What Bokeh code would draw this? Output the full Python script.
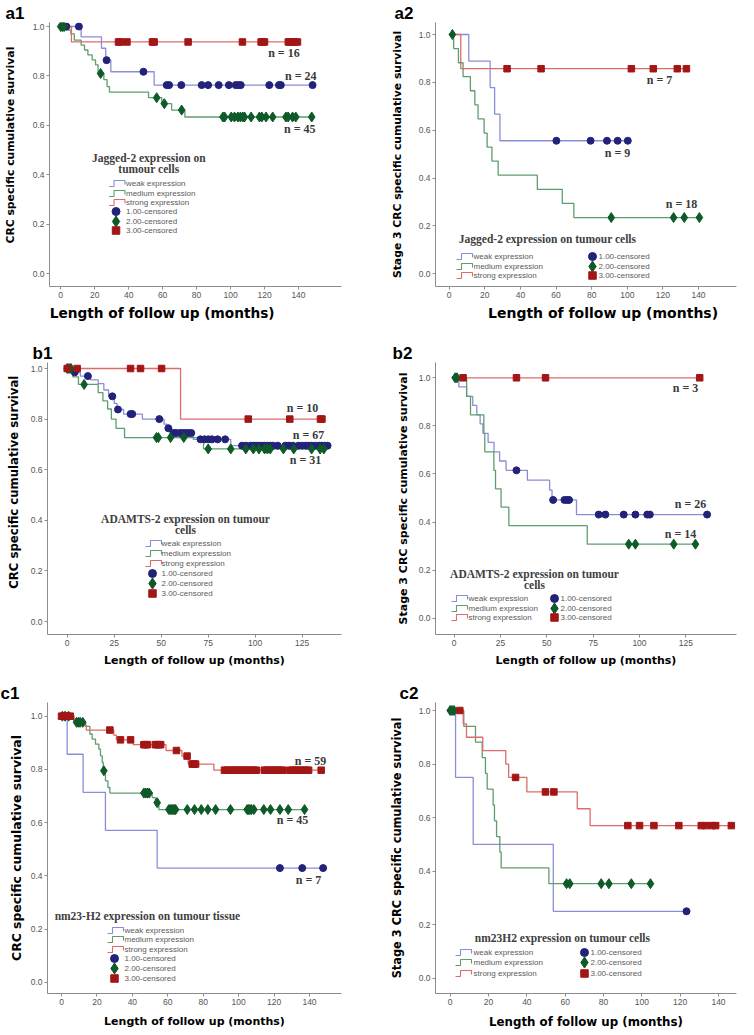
import numpy as np
from bokeh.plotting import figure
from bokeh.layouts import column, row
from bokeh.models import Range1d, FixedTicker, PrintfTickFormatter
from bokeh.core.properties import value
from bokeh.embed import file_html
from bokeh.resources import INLINE

# ---------------------------------------------------------------- data
GROUPS = ["weak expression", "medium expression", "strong expression"]
CENSOR_LABELS = ["1.00-censored", "2.00-censored", "3.00-censored"]
X_LABEL = "Length of follow up (months)"
Y_LABEL_ALL = "CRC specific cumulative survival"
Y_LABEL_ST3 = "Stage 3 CRC specific cumulative survival"
TICKS_140 = [0, 20, 40, 60, 80, 100, 120, 140]
TICKS_125 = [0, 25, 50, 75, 100, 125]
Y_TICKS = [0.0, 0.2, 0.4, 0.6, 0.8, 1.0]

# a1 : Jagged-2, all stages
a1_weak_t = [12, 24, 26.5, 29.5, 55]
a1_weak_s = [0.958, 0.912, 0.864, 0.817, 0.763]
a1_weak_c = [3.3, 10.7, 27, 48.7, 62.4, 63.8, 71, 83, 86.8, 93, 99, 103, 104.5, 106,
             122.8, 128.5, 129.6, 148.3]
a1_med_t = [3, 6, 8, 12, 14, 16, 18.5, 20.5, 22, 25.4, 27.3, 28.7, 51.7, 59.5, 65.3, 73.1]
a1_med_s = [0.985, 0.97, 0.945, 0.925, 0.905, 0.885, 0.865, 0.845, 0.81, 0.785, 0.757,
            0.735, 0.712, 0.688, 0.662, 0.634]
a1_med_c = [0, 1, 2, 23.5, 56.5, 61, 71.2, 95.5, 96.5, 100.4, 102.3, 104.3, 105.8, 107.2,
            108.2, 112.1, 117, 118.4, 120.9, 124.8, 132.6, 133.9, 136.5, 138.4, 147.8]
a1_str_t = [6.3]
a1_str_s = [0.9375]
a1_str_c = [34, 35, 39, 54, 55, 75, 107, 118, 119, 120, 134, 135, 136, 137.5, 139.4]

# a2 : Jagged-2, stage 3
a2_weak_t = [11, 23, 25.5, 28.5]
a2_weak_s = [0.889, 0.778, 0.667, 0.556]
a2_weak_c = [60.2, 79.4, 88.6, 94.6, 100.3]
a2_med_t = [2.5, 5.2, 7.8, 11.9, 14.4, 16.2, 19.6, 21.3, 24, 27.5, 49.5, 63.5, 70]
a2_med_s = [0.941, 0.882, 0.824, 0.765, 0.706, 0.647, 0.588, 0.529, 0.471, 0.412,
            0.353, 0.294, 0.235]
a2_med_c = [1.8, 91, 126, 132, 140.5]
a2_str_t = [6.5]
a2_str_s = [0.857]
a2_str_c = [32.5, 51.6, 102.3, 114.6, 128.1, 133.2]

# b1 : ADAMTS-2, all stages
b1_weak_t = [2.5, 7, 12.5, 16.5, 19.5, 22, 25, 26.5, 30, 40, 51.5, 53, 55.5, 67, 87]
b1_weak_s = [0.985, 0.97, 0.955, 0.94, 0.915, 0.89, 0.862, 0.838, 0.82, 0.80, 0.78,
             0.764, 0.745, 0.72, 0.695]
b1_weak_c = [1, 4, 11, 24, 27, 33.7, 34.6, 49, 53.8, 56.5, 58, 60, 61.5, 63, 64.5, 66,
             70.9, 73, 75, 77, 80, 84, 93, 95, 97.5, 99, 100.5, 102, 103.5, 105, 106.5,
             108, 109.5, 112, 116, 118, 120, 123, 125, 127, 128.5, 130, 132, 134, 135.5,
             137, 138.5]
b1_med_t = [3, 6, 16.5, 19, 21.5, 23.5, 26, 30.5, 72.5]
b1_med_s = [0.967, 0.937, 0.905, 0.872, 0.84, 0.80, 0.763, 0.727, 0.682]
b1_med_c = [0, 1, 2, 9, 47.5, 48.5, 55, 62, 75, 87, 95, 99, 102, 105, 106.5, 108, 115,
            120.5, 130, 134.5, 136.5]
b1_str_t = [60.3]
b1_str_s = [0.80]
b1_str_c = [0, 5.3, 33.7, 39, 50.2, 96.3, 118.4, 134.7, 135.5]

# b2 : ADAMTS-2, stage 3
b2_weak_t = [2.5, 6.7, 10, 12.2, 14, 15.5, 18.3, 21.5, 24.5, 28, 39.5, 51.5, 52.8, 66]
b2_weak_s = [0.962, 0.923, 0.885, 0.846, 0.808, 0.769, 0.731, 0.692, 0.654, 0.615,
             0.574, 0.533, 0.492, 0.431]
b2_weak_c = [33.6, 53.4, 59.5, 61, 62, 78, 81.6, 91.5, 97.8, 104.2, 105.6, 136.5]
b2_med_t = [6.7, 8.8, 16, 16.5, 21.4, 22.3, 25.3, 29.5, 71.8]
b2_med_s = [0.923, 0.846, 0.769, 0.692, 0.615, 0.538, 0.462, 0.385, 0.308]
b2_med_c = [0.5, 1.5, 94.2, 97.8, 118.5, 130.2]
b2_str_t = []
b2_str_s = []
b2_str_c = [4.8, 33.6, 49.3, 132.5]

# c1 : nm23-H2, all stages
c1_weak_t = [3.2, 12.2, 24.8, 54]
c1_weak_s = [0.857, 0.714, 0.571, 0.429]
c1_weak_c = [123.3, 135.9, 147.7]
c1_med_t = [7, 13.6, 16, 17.3, 19.2, 21.1, 22, 23, 23.6, 24.8, 26.2, 27.3, 51.2, 53, 55]
c1_med_s = [0.977, 0.962, 0.933, 0.914, 0.895, 0.876, 0.851, 0.826, 0.795, 0.757, 0.732,
            0.711, 0.694, 0.675, 0.649]
c1_med_c = [0.5, 2, 4, 8.5, 9.5, 10.5, 12, 23.9, 46.5, 47.5, 48.5, 49.5, 54, 60.6, 61.5,
            62.3, 63, 63.7, 64.4, 71, 75.1, 78.9, 82.6, 87, 95.4, 104.8, 105.6, 106.4,
            107.2, 108.6, 114.2, 118, 123.3, 128, 137.2]
c1_str_t = [7, 12.5, 14, 29.5, 31, 40.5, 59, 68, 71.5, 86]
c1_str_s = [0.982, 0.965, 0.948, 0.929, 0.911, 0.893, 0.871, 0.85, 0.82, 0.797]
c1_str_c = [0, 1, 2, 3.5, 5, 27.3, 33.3, 39, 46.5, 47.5, 48.5, 53, 54, 55, 56, 64.9, 70.9,
            73.8, 74.7, 75.7, 92, 93.5, 95, 96.5, 98, 99.5, 101, 102.5, 104, 105.5, 107,
            108.5, 110, 114.5, 116, 117.5, 119, 120.5, 122, 123.5, 125, 129, 130.5, 132,
            133.5, 135, 136.5, 138, 139.5, 146.6]

# c2 : nm23-H2, stage 3
c2_weak_t = [2.8, 12, 53.8]
c2_weak_s = [0.75, 0.50, 0.25]
c2_weak_c = [123.3]
c2_med_t = [7.1, 13.2, 16.7, 18.4, 19.3, 22.4, 23.1, 24.2, 25.9, 26.6, 51.5]
c2_med_s = [0.941, 0.882, 0.824, 0.765, 0.706, 0.647, 0.588, 0.529, 0.471, 0.412, 0.353]
c2_med_c = [0, 1, 2, 60.7, 62.4, 78.8, 82.8, 94.5, 104.5]
c2_str_t = [6.8, 8.5, 17, 29, 30.5, 40, 66.3, 73]
c2_str_s = [0.95, 0.90, 0.85, 0.80, 0.75, 0.696, 0.633, 0.57]
c2_str_c = [5, 34.1, 49.7, 54.1, 92.7, 98.8, 106.3, 119.3, 131, 133.3, 136.7, 138.5, 146.7]

N_LABELS = {
    "a1": ["n = 16", "n = 24", "n = 45"],
    "a2": ["n = 7", "n = 9", "n = 18"],
    "b1": ["n = 10", "n = 67", "n = 31"],
    "b2": ["n = 3", "n = 26", "n = 14"],
    "c1": ["n = 59", "n = 45", "n = 7"],
    "c2": [],
}
LEGEND_TITLES = {
    "a1": ["Jagged-2 expression on", "tumour cells"],
    "a2": ["Jagged-2 expression on tumour cells"],
    "b1": ["ADAMTS-2 expression on tumour", "cells"],
    "b2": ["ADAMTS-2 expression on tumour", "cells"],
    "c1": ["nm23-H2 expression on tumour tissue"],
    "c2": ["nm23H2 expression on tumour cells"],
}

# ---------------------------------------------------------------- styles / layout
LINE_COLORS = ["#8a8ed8", "#5e9e6e", "#dc6c6c"]
MK_COLORS = ["#22227a", "#0e5a28", "#a31616"]
MARKERS = ["circle", "diamond", "square"]
MK_SIZES = [7, 10, 6.5]
AXIS_GREY = "#8c8c8c"
NBSP = "\u00a0"

COLS = [(0, 377), (377, 377)]              # figure x, width
ROWS = [(0, 340), (340, 340), (680, 355)]  # figure y, height
COL_FRAMES = [(47, 341), (435, 736)]       # frame left/right (page px)
ROW_FRAMES = [(22, 286), (362, 634), (702, 993)]  # frame top/bottom (page px)
X_STANDOFF = [4, 5, 7]

PANELS = [
    dict(key="a1", col=0, row=0, xcal=(0, 58.3, 140, 297.7), ycal=(1.0, 26, 0.0, 273.3),
         ref_ycal=(1.0, 15.7, 0.0, 273.3), xticks=TICKS_140, ylabel=Y_LABEL_ALL,
         ystand=13, tag_off=-44, xfs="13.7px", xpad=(0, 14), yfs="10.8px", ylead=5,
         data=[(a1_weak_t, a1_weak_s, a1_weak_c), (a1_med_t, a1_med_s, a1_med_c),
               (a1_str_t, a1_str_s, a1_str_c)],
         npos=[(283, 43), (300, 67), (299, 122)],
         leg=dict(tx=147, ty=[157, 168], cols=1, icon_x=107, text_x=124, mk_x=114,
                  rows=[183, 193, 202, 211, 221, 230])),
    dict(key="a2", col=1, row=0, xcal=(0, 448.7, 140, 698), ycal=(1.0, 34, 0.0, 273.3),
         ref_ycal=(1.0, 34, 0.0, 273.3), xticks=TICKS_140, ylabel=Y_LABEL_ST3,
         ystand=12, tag_off=-41, xfs="14px", xpad=(7, 0), yfs="10.8px", ylead=0,
         data=[(a2_weak_t, a2_weak_s, a2_weak_c), (a2_med_t, a2_med_s, a2_med_c),
               (a2_str_t, a2_str_s, a2_str_c)],
         npos=[(659, 79), (617, 152), (681, 203)],
         leg=dict(tx=547, ty=[238], cols=2, icon_x=456, text_x=473, mk_x=592,
                  mk_text_x=598, rows=[256, 266, 275])),
    dict(key="b1", col=0, row=1, xcal=(0, 66.7, 125, 301.7), ycal=(1.0, 368, 0.0, 621),
         ref_ycal=(1.0, 355.7, 0.0, 621), xticks=TICKS_125, ylabel=Y_LABEL_ALL,
         ystand=7, tag_off=-15, xfs="11px", xpad=(0, 0), yfs="11.7px", ylead=8,
         data=[(b1_weak_t, b1_weak_s, b1_weak_c), (b1_med_t, b1_med_s, b1_med_c),
               (b1_str_t, b1_str_s, b1_str_c)],
         npos=[(302, 397), (308, 425), (305, 452)],
         leg=dict(tx=185, ty=[518, 529], cols=1, icon_x=145, text_x=161, mk_x=152,
                  rows=[543, 553, 563, 573, 583, 593])),
    dict(key="b2", col=1, row=1, xcal=(0, 453.7, 125, 685.3), ycal=(1.0, 377.3, 0.0, 617.7),
         ref_ycal=(1.0, 377.3, 0.0, 617.7), xticks=TICKS_125, ylabel=Y_LABEL_ST3,
         ystand=6, tag_off=-43, xfs="11px", xpad=(0, 0), yfs="11px", ylead=0,
         data=[(b2_weak_t, b2_weak_s, b2_weak_c), (b2_med_t, b2_med_s, b2_med_c),
               (b2_str_t, b2_str_s, b2_str_c)],
         npos=[(685, 387), (690, 503), (680, 533)],
         leg=dict(tx=534, ty=[573, 584], cols=2, icon_x=451, text_x=468, mk_x=554,
                  mk_text_x=560, rows=[598, 608, 617])),
    dict(key="c1", col=0, row=2, xcal=(0, 61, 140, 309), ycal=(1.0, 715.7, 0.0, 981.7),
         ref_ycal=(1.0, 715.7, 0.0, 981.7), xticks=TICKS_140, ylabel=Y_LABEL_ALL,
         ystand=4, tag_off=-47, xfs="11px", xpad=(0, 0), yfs="12.4px", ylead=0,
         data=[(c1_weak_t, c1_weak_s, c1_weak_c), (c1_med_t, c1_med_s, c1_med_c),
               (c1_str_t, c1_str_s, c1_str_c)],
         npos=[(310, 760), (292, 819), (308, 879)],
         leg=dict(tx=147, ty=[915], cols=1, icon_x=107, text_x=124, mk_x=114,
                  rows=[930, 939, 949, 958, 968, 978])),
    dict(key="c2", col=1, row=2, xcal=(0, 449.7, 140, 718), ycal=(1.0, 710, 0.0, 977.7),
         ref_ycal=(1.0, 710, 0.0, 977.7), xticks=TICKS_140, ylabel=Y_LABEL_ST3,
         ystand=12, tag_off=-36, xfs="11.8px", xpad=(0, 0), yfs="11.4px", ylead=0,
         data=[(c2_weak_t, c2_weak_s, c2_weak_c), (c2_med_t, c2_med_s, c2_med_c),
               (c2_str_t, c2_str_s, c2_str_c)],
         npos=[],
         leg=dict(tx=562, ty=[937], cols=2, icon_x=455, text_x=473, mk_x=584,
                  mk_text_x=590, rows=[952, 962, 973])),
]


def level_at(ev_t, ev_s, times):
    ev_t = np.asarray(ev_t, float)
    out = []
    for t in times:
        idx = np.searchsorted(ev_t, t, side="right") - 1
        out.append(1.0 if idx < 0 else float(ev_s[idx]))
    return out


def step_xy(ev_t, ev_s, cens):
    end = max([0.0] + list(ev_t) + list(cens))
    xs = [0.0] + list(ev_t) + [end]
    last = ev_s[-1] if len(ev_s) else 1.0
    ys = [1.0] + list(ev_s) + [last]
    return xs, ys


def lin(cal):
    v0, p0, v1, p1 = cal
    k = (v1 - v0) / (p1 - p0)
    return lambda px: v0 + (px - p0) * k


def make_panel(sp):
    fx, fw = COLS[sp["col"]]
    fy, fh = ROWS[sp["row"]]
    L, R = COL_FRAMES[sp["col"]]
    T, B = ROW_FRAMES[sp["row"]]
    X = lin(sp["xcal"])
    Y = lin(sp["ycal"])
    Yref = lin(sp["ref_ycal"])

    p = figure(width=fw, height=fh, x_range=Range1d(X(L), X(R)),
               y_range=Range1d(Y(B), Y(T)), output_backend="svg",
               toolbar_location=None, min_border_left=L - fx,
               min_border_right=fx + fw - R, min_border_top=T - fy,
               min_border_bottom=fy + fh - B)
    p.xgrid.visible = False
    p.ygrid.visible = False
    p.outline_line_color = None
    p.background_fill_color = "white"
    p.border_fill_color = "white"

    # panel tag (a1, a2, ...) as the figure title
    p.title.text = sp["key"]
    p.title.align = "left"
    p.title.offset = sp["tag_off"]
    p.title.standoff = 0
    p.title.text_font = "Liberation Sans"
    p.title.text_font_size = "17px"
    p.title.text_font_style = "bold"
    p.title.text_color = "black"

    for ax in (p.xaxis[0], p.yaxis[0]):
        ax.axis_line_color = AXIS_GREY
        ax.major_tick_line_color = AXIS_GREY
        ax.major_tick_out = 3
        ax.major_tick_in = 0
        ax.minor_tick_line_color = None
        ax.major_label_text_font = "Liberation Sans"
        ax.major_label_text_font_size = "8.5px"
        ax.major_label_text_color = "#555555"
        ax.major_label_standoff = 2
        ax.axis_label_text_font = "DejaVu Sans"
        ax.axis_label_text_font_style = "bold"
        ax.axis_label_text_color = "black"
    p.xaxis.ticker = FixedTicker(ticks=sp["xticks"])
    p.yaxis.ticker = FixedTicker(ticks=Y_TICKS)
    p.yaxis.formatter = PrintfTickFormatter(format="%.1f")
    lead, trail = sp["xpad"]
    p.xaxis.axis_label = NBSP * lead + X_LABEL + NBSP * trail
    p.xaxis.axis_label_text_font_size = sp["xfs"]
    p.xaxis.axis_label_standoff = X_STANDOFF[sp["row"]]
    p.yaxis.axis_label = NBSP * sp["ylead"] + sp["ylabel"]
    p.yaxis.axis_label_text_font_size = sp["yfs"]
    p.yaxis.axis_label_standoff = sp["ystand"]

    # survival step curves
    for g, (t, s, c) in enumerate(sp["data"]):
        xs, ys = step_xy(t, s, c)
        p.step(x=xs, y=ys, mode="after", line_color=LINE_COLORS[g], line_width=1.3)
    # censored marks
    for g, (t, s, c) in enumerate(sp["data"]):
        p.scatter(x=c, y=level_at(t, s, c), marker=MARKERS[g], size=MK_SIZES[g],
                  fill_color=MK_COLORS[g], line_color=MK_COLORS[g])

    # n = labels (placed relative to the curves)
    labels = N_LABELS[sp["key"]]
    if labels:
        p.text(x=[X(a) for a, b in sp["npos"]], y=[Yref(b) for a, b in sp["npos"]],
               text=labels, text_font=value("Liberation Serif"), text_font_style="bold",
               text_font_size="12px", text_color="#3a3a3a", text_align="center",
               text_baseline="middle")

    # legend (drawn by hand, SPSS style)
    lg = sp["leg"]
    p.text(x=[X(lg["tx"])] * len(lg["ty"]), y=[Y(v) for v in lg["ty"]],
           text=LEGEND_TITLES[sp["key"]], text_font=value("Liberation Serif"),
           text_font_style="bold", text_font_size="11.5px", text_color="#404040",
           text_align="center", text_baseline="middle")
    rows = lg["rows"]
    if lg["cols"] == 1:
        line_rows, mk_rows = rows[:3], rows[3:]
        mk_text_x = lg["text_x"]
    else:
        line_rows, mk_rows = rows, rows
        mk_text_x = lg["mk_text_x"]
    icon_dx = [0, 5, 5, 16, 16]
    icon_dy = [3, 3, -3, -3, 1]
    for g in range(3):
        ix, ry = lg["icon_x"], line_rows[g]
        p.line(x=[X(ix + d) for d in icon_dx], y=[Y(ry + d) for d in icon_dy],
               line_color=LINE_COLORS[g], line_width=1.1)
        p.scatter(x=[X(lg["mk_x"])], y=[Y(mk_rows[g])], marker=MARKERS[g],
                  size=MK_SIZES[g] + 1, fill_color=MK_COLORS[g], line_color=MK_COLORS[g])
    p.text(x=[X(lg["text_x"])] * 3, y=[Y(v) for v in line_rows], text=GROUPS,
           text_font=value("Liberation Sans"), text_font_size="8px",
           text_color="#5a5a5a", text_align="left", text_baseline="middle")
    p.text(x=[X(mk_text_x)] * 3, y=[Y(v) for v in mk_rows], text=CENSOR_LABELS,
           text_font=value("Liberation Sans"), text_font_size="8px",
           text_color="#5a5a5a", text_align="left", text_baseline="middle")
    return p


figs = {sp["key"]: make_panel(sp) for sp in PANELS}
layout = column(row(figs["a1"], figs["a2"]), row(figs["b1"], figs["b2"]),
                row(figs["c1"], figs["c2"]))

open("out.html", "w").write(file_html(layout, INLINE))
